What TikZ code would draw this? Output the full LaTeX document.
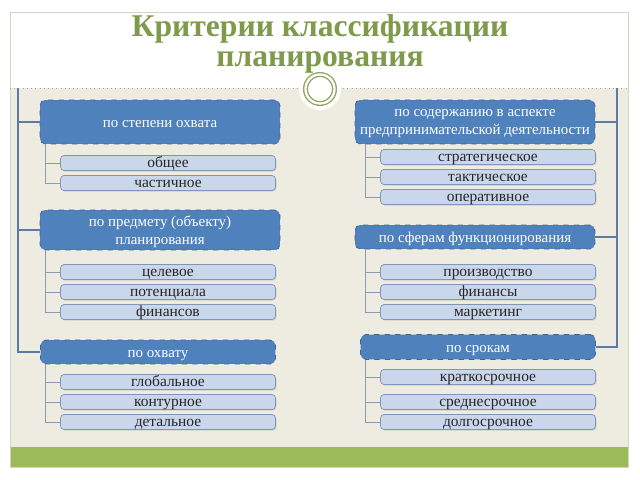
\documentclass[tikz,border=0pt]{standalone}
\usepackage{fontspec}
\setmainfont{Liberation Serif}
\usetikzlibrary{shadows}

\definecolor{headblue}{HTML}{4F81BD}
\definecolor{headedge}{HTML}{3B6595}
\definecolor{itemfill}{HTML}{CAD6EA}
\definecolor{itemedge}{HTML}{7F96B8}
\definecolor{busblue}{HTML}{5B7BA6}
\definecolor{twiggray}{HTML}{8A9BB3}
\definecolor{paper}{HTML}{EEECE1}
\definecolor{leaf}{HTML}{9BBB59}
\definecolor{titlegreen}{HTML}{7F9A4A}
\definecolor{framegray}{HTML}{D3D6C4}

\begin{document}
\begin{tikzpicture}[x=0.02cm, y=-0.02cm,
  head/.style={draw=headedge, dashed, fill=headblue, rounded corners=3pt, text=white,
    minimum width=4.8cm, align=center, inner sep=1pt, text height=6.5pt, text depth=0pt,
    font=\fontsize{8.5}{10.5}\selectfont},
  twoline/.style={text height=, text depth=-3pt},
  item/.style={draw=itemedge, fill=itemfill, rounded corners=2pt, text=black!85,
    minimum width=4.3cm, minimum height=0.3cm, inner sep=0pt, text height=5.6pt, text depth=0pt,
    font=\fontsize{8.8}{9}\selectfont,
    drop shadow={opacity=0.25, shadow xshift=0.6pt, shadow yshift=-0.6pt}},
  titletext/.style={anchor=base, text=titlegreen, font=\fontsize{18}{18}\selectfont\bfseries},
  bus/.style={busblue, line width=1.3pt},
  twig/.style={twiggray, line width=0.5pt}]
\useasboundingbox (0,0) rectangle (640,480);

% slide
\fill [white] (0,0) rectangle (640,480);
\fill [paper] (10,88) rectangle (628,447);
\fill [leaf] (10,447) rectangle (628,467);
\draw [framegray] (10,12) rectangle (628,467);
\draw [gray!70, dotted] (10,88) -- (628,88);
\fill [white] (320,89) circle [radius=21];
\draw [titlegreen!85, line width=0.8pt, double=white, double distance=1.3pt] (320,89) circle [radius=14.5];
\node (title1) at (320,36) [titletext] {Критерии классификации};
\node (title2) at (320,67) [titletext] {планирования};

% left column
\node (h1) at (160,122) [head, minimum height=0.88cm] {по степени охвата};
\node (h2) at (160,230) [head, twoline, minimum height=0.8cm] {по предмету (объекту)\\планирования};
\node (h3) at (158,352) [head, minimum width=4.7cm, minimum height=0.48cm] {по охвату};
\node (a1) at (168,163) [item] {общее};
\node (a2) at (168,183) [item] {частичное};
\node (b1) at (168,272) [item] {целевое};
\node (b2) at (168,292) [item] {потенциала};
\node (b3) at (168,312) [item] {финансов};
\node (c1) at (168,382) [item] {глобальное};
\node (c2) at (168,402) [item] {контурное};
\node (c3) at (168,422) [item] {детальное};

% right column
\node (r1) at (475,122) [head, twoline, minimum height=0.88cm] {по содержанию в аспекте\\предпринимательской деятельности};
\node (r2) at (475,237) [head, minimum height=0.48cm] {по сферам функционирования};
\node (r3) at (478,347) [head, minimum width=4.7cm, minimum height=0.5cm] {по срокам};
\node (d1) at (488,157) [item] {стратегическое};
\node (d2) at (488,177) [item] {тактическое};
\node (d3) at (488,197) [item] {оперативное};
\node (e1) at (488,272) [item] {производство};
\node (e2) at (488,292) [item] {финансы};
\node (e3) at (488,312) [item] {маркетинг};
\node (f1) at (488,377) [item] {краткосрочное};
\node (f2) at (488,402) [item] {среднесрочное};
\node (f3) at (488,422) [item] {долгосрочное};

% main buses
\coordinate (ltop) at (18,88);
\coordinate (rtop) at (617,88);
\draw [bus] (ltop) |- (h3.west);
\draw [bus] (h1.west -| ltop) -- (h1.west);
\draw [bus] (h2.west -| ltop) -- (h2.west);
\draw [bus] (rtop) |- (r3.east);
\draw [bus] (r1.east -| rtop) -- (r1.east);
\draw [bus] (r2.east -| rtop) -- (r2.east);

% twigs
\coordinate (ltwig) at (45,0);
\coordinate (rtwig) at (365,0);
\foreach \h/\s in {h1/a1, h1/a2, h2/b1, h2/b2, h2/b3, h3/c1, h3/c2, h3/c3}
  \draw [twig] (\h.south -| ltwig) |- (\s.west);
\foreach \h/\s in {r1/d1, r1/d2, r1/d3, r2/e1, r2/e2, r2/e3, r3/f1, r3/f2, r3/f3}
  \draw [twig] (\h.south -| rtwig) |- (\s.west);
\end{tikzpicture}
\end{document}
